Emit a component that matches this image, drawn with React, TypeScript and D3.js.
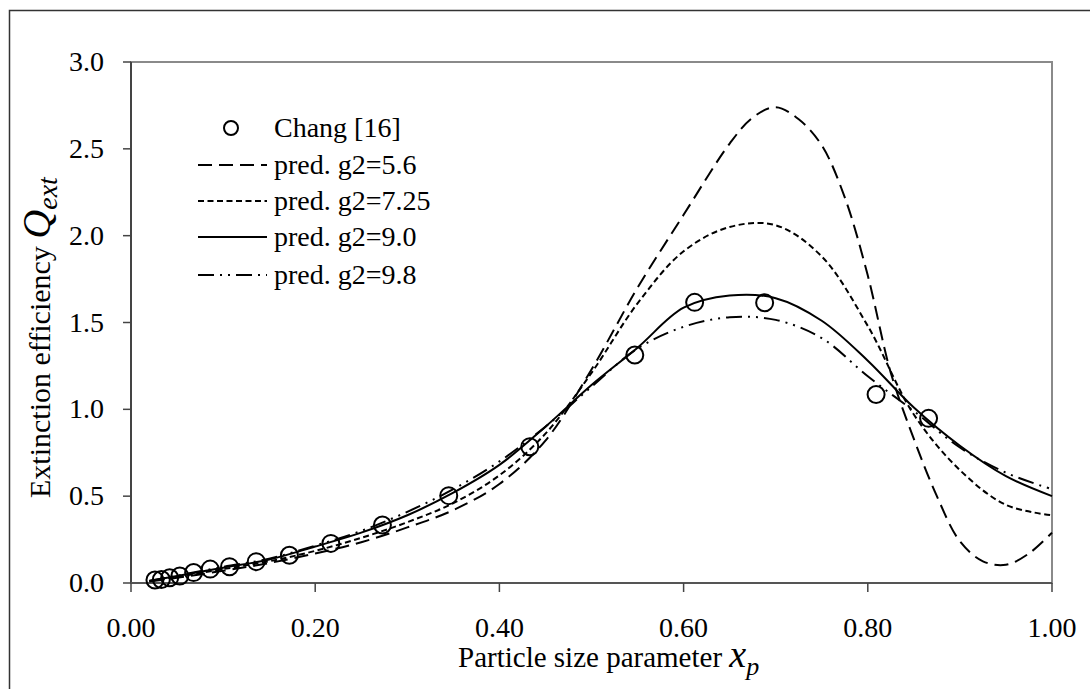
import React from "react";
import * as d3 from "d3";

const changX = [0.026, 0.033, 0.042, 0.053, 0.068, 0.086, 0.107, 0.136, 0.172, 0.217, 0.273, 0.345, 0.433, 0.547, 0.612, 0.688, 0.809, 0.866];
const changY = [0.017, 0.02, 0.03, 0.04, 0.06, 0.08, 0.094, 0.123, 0.16, 0.228, 0.334, 0.503, 0.785, 1.313, 1.616, 1.614, 1.085, 0.948];

const gridX = [0.02, 0.05, 0.10, 0.15, 0.20, 0.25, 0.30, 0.35, 0.40, 0.45, 0.50, 0.55, 0.60, 0.65, 0.70, 0.75, 0.80, 0.85, 0.90, 0.95, 1.00];
const predG725 = [0.01, 0.035, 0.08, 0.125, 0.185, 0.26, 0.35, 0.46, 0.62, 0.86, 1.21, 1.61, 1.91, 2.05, 2.06, 1.88, 1.48, 0.97, 0.65, 0.45, 0.39];
const predG90 = [0.012, 0.04, 0.088, 0.135, 0.21, 0.29, 0.39, 0.52, 0.68, 0.90, 1.14, 1.355, 1.585, 1.655, 1.64, 1.51, 1.28, 1.01, 0.79, 0.615, 0.50];
const predG98 = [0.013, 0.042, 0.093, 0.14, 0.215, 0.30, 0.41, 0.54, 0.70, 0.90, 1.13, 1.35, 1.475, 1.53, 1.515, 1.41, 1.19, 0.99, 0.78, 0.635, 0.54];

const longX = [0.02, 0.05, 0.10, 0.15, 0.20, 0.25, 0.30, 0.35, 0.40, 0.45, 0.50, 0.55, 0.60, 0.65, 0.675, 0.70, 0.725, 0.75, 0.775, 0.80, 0.825, 0.85, 0.875, 0.90, 0.925, 0.95, 0.975, 1.00];
const predG56 = [0.008, 0.03, 0.07, 0.115, 0.17, 0.235, 0.32, 0.42, 0.57, 0.82, 1.23, 1.70, 2.12, 2.53, 2.68, 2.74, 2.67, 2.52, 2.22, 1.77, 1.21, 0.83, 0.50, 0.24, 0.125, 0.105, 0.17, 0.29];

const xTicks = [0, 0.2, 0.4, 0.6, 0.8, 1.0];
const yTicks = [0, 0.5, 1.0, 1.5, 2.0, 2.5, 3.0];

const legendLabels = ["Chang [16]", "pred. g2=5.6", "pred. g2=7.25", "pred. g2=9.0", "pred. g2=9.8"];
const dashes = ["14,7", "6,3.5", "", "16,6,2,6,2,6"];

const FONT = "'Liberation Serif', 'Times New Roman', serif";

export default function App() {
  const left = 131, right = 1052, top = 62, bottom = 583;
  const x = d3.scaleLinear().domain([0, 1]).range([left, right]);
  const y = d3.scaleLinear().domain([0, 3]).range([bottom, top]);
  const line = d3
    .line<[number, number]>()
    .x((d) => x(d[0]))
    .y((d) => y(d[1]))
    .curve(d3.curveCatmullRom.alpha(0.5));

  const series: { xs: number[]; ys: number[] }[] = [
    { xs: longX, ys: predG56 },
    { xs: gridX, ys: predG725 },
    { xs: gridX, ys: predG90 },
    { xs: gridX, ys: predG98 },
  ];

  const legendRows = [128, 165, 201, 237, 275];

  return (
    <svg
      width={1090}
      height={689}
      style={{ position: "absolute", left: 0, top: 0, background: "#fff" }}
      fontFamily={FONT}
    >
      <rect x={0} y={0} width={1090} height={689} fill="#fff" />
      <rect x={9.5} y={10.5} width={1200} height={800} fill="none" stroke="#333" strokeWidth={1.5} />
      <rect x={left} y={top} width={right - left} height={bottom - top} fill="none" stroke="#8a8a8a" strokeWidth={2} />
      <line x1={left} x2={left} y1={top} y2={bottom} stroke="#444" strokeWidth={2} />
      <line x1={left} x2={right} y1={bottom} y2={bottom} stroke="#555" strokeWidth={2} />
      {yTicks.map((t) => (
        <g key={"y" + t}>
          <line x1={left - 8} x2={left} y1={y(t)} y2={y(t)} stroke="#444" strokeWidth={1.5} />
          <text x={104} y={y(t) + 9} fontSize={28} textAnchor="end" fill="#000">
            {t.toFixed(1)}
          </text>
        </g>
      ))}
      {xTicks.map((t) => (
        <g key={"x" + t}>
          <line x1={x(t)} x2={x(t)} y1={bottom} y2={bottom + 9} stroke="#444" strokeWidth={1.5} />
          <text x={x(t)} y={637} fontSize={28} textAnchor="middle" fill="#000">
            {t.toFixed(2)}
          </text>
        </g>
      ))}
      <text x={458} y={667} fontSize={29} fill="#000">
        Particle size parameter{" "}
        <tspan fontStyle="italic" fontSize={38}>x</tspan>
        <tspan fontStyle="italic" fontSize={26} dy={8}>p</tspan>
      </text>
      <text transform="translate(50,498) rotate(-90)" fontSize={30} fill="#000">
        Extinction efficiency{" "}
        <tspan fontStyle="italic" fontSize={40}>Q</tspan>
        <tspan fontStyle="italic" fontSize={28} dy={7}>ext</tspan>
      </text>
      {series.map((s, i) => (
        <path
          key={"s" + i}
          d={line(s.xs.map((v, j) => [v, s.ys[j]] as [number, number])) || ""}
          fill="none"
          stroke="#000"
          strokeWidth={2}
          strokeDasharray={dashes[i] || undefined}
        />
      ))}
      {changX.map((v, i) => (
        <circle key={"c" + i} cx={x(v)} cy={y(changY[i])} r={8.5} fill="none" stroke="#000" strokeWidth={2} />
      ))}
      <circle cx={231} cy={legendRows[0]} r={7} fill="none" stroke="#000" strokeWidth={2} />
      {dashes.map((d, i) => (
        <line
          key={"l" + i}
          x1={198}
          x2={267}
          y1={legendRows[i + 1]}
          y2={legendRows[i + 1]}
          stroke="#000"
          strokeWidth={2}
          strokeDasharray={d || undefined}
        />
      ))}
      {legendLabels.map((l, i) => (
        <text key={"t" + i} x={274} y={legendRows[i] + 9} fontSize={28} fill="#000">
          {l}
        </text>
      ))}
    </svg>
  );
}
